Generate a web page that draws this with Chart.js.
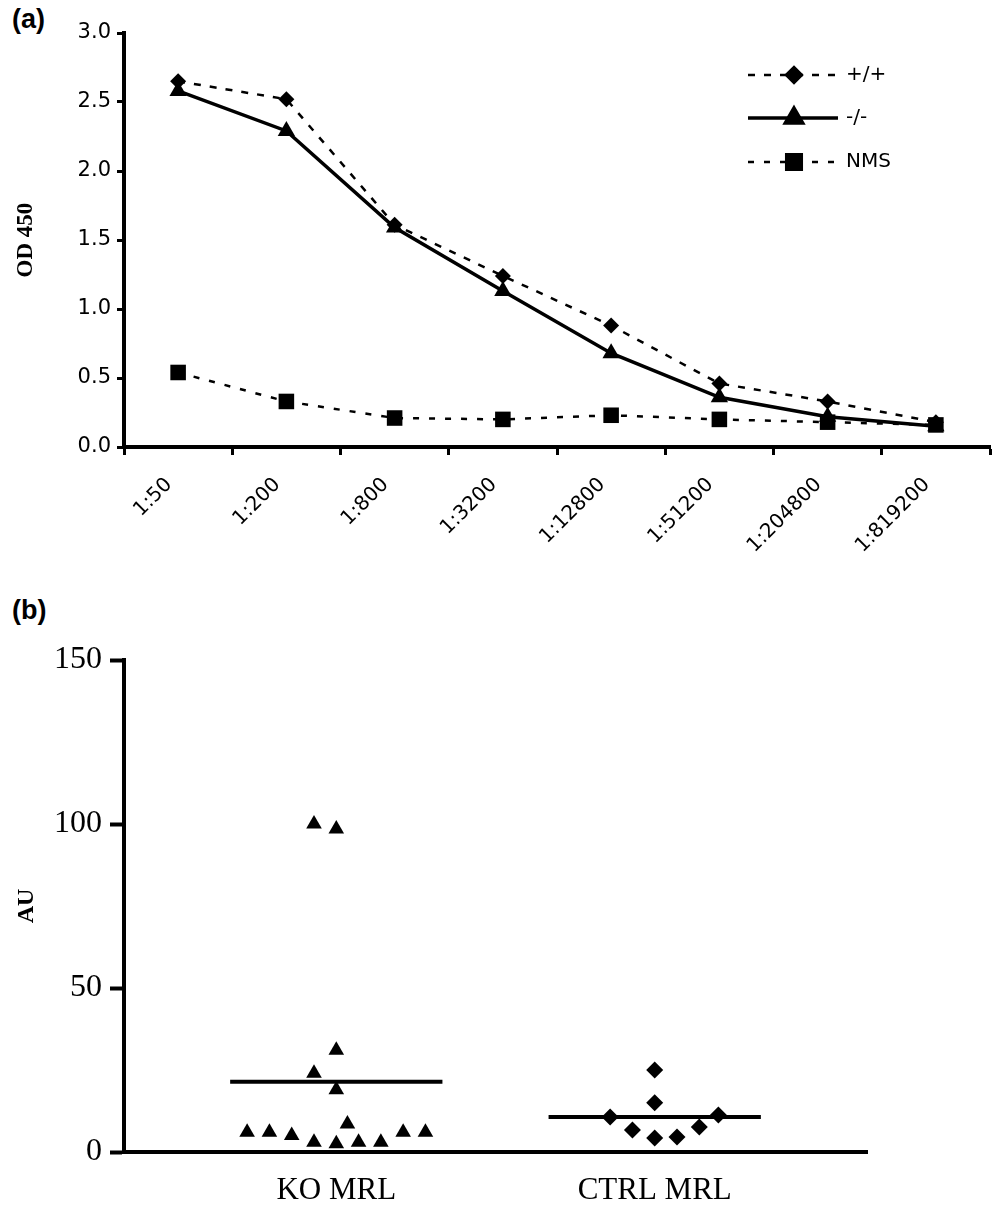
<!DOCTYPE html>
<html>
<head>
<meta charset="utf-8">
<script src="https://cdn.jsdelivr.net/npm/chart.js@4.4.1/dist/chart.umd.min.js"></script>
<style>
  body { margin: 0; background: #fff; width: 1004px; height: 1208px; position: relative; overflow: hidden; }
  .panel-tag { position: absolute; left: 12px; font: bold 27px "Liberation Sans", Arial, sans-serif; color: #000; }
  .wrap { position: absolute; left: 0; width: 1004px; }
</style>
</head>
<body>
<div class="panel-tag" style="top:4px">(a)</div>
<div class="wrap" style="top:0; height:580px"><canvas id="chartA" width="1004" height="580"></canvas></div>
<div class="panel-tag" style="top:595px">(b)</div>
<div class="wrap" style="top:580px; height:628px"><canvas id="chartB" width="1004" height="628"></canvas></div>

<script>
// panel (a) - titration curves
const dilutions = ['1:50', '1:200', '1:800', '1:3200', '1:12800', '1:51200', '1:204800', '1:819200'];
const wtValues  = [2.65, 2.52, 1.61, 1.24, 0.88, 0.46, 0.33, 0.18];
const koValues  = [2.58, 2.29, 1.59, 1.13, 0.68, 0.36, 0.22, 0.15];
const nmsValues = [0.54, 0.33, 0.21, 0.20, 0.23, 0.20, 0.18, 0.16];
const odTicks = [0, 0.5, 1.0, 1.5, 2.0, 2.5, 3.0];

// panel (b) - individual mice
const groups = ['KO MRL', 'CTRL MRL'];
const koMrl     = [100, 98.5, 31, 24, 19, 6, 6, 5, 3, 2.5, 8.5, 3, 3, 6, 6];
const koSpread  = [-0.07, 0, 0, -0.07, 0, -0.28, -0.21, -0.14, -0.07, 0, 0.035, 0.07, 0.14, 0.21, 0.28];
const ctrlMrl    = [25, 15, 10.7, 11.3, 6.7, 4.3, 4.6, 7.6];
const ctrlSpread = [0, 0, -0.14, 0.2, -0.07, 0, 0.07, 0.14];
const auTicks = [0, 50, 100, 150];

const sans = '"DejaVu Sans", Verdana, sans-serif';
const serif = '"Liberation Serif", "Times New Roman", serif';

// legend drawn as line + marker + label, like the original figure
const lineLegend = {
  id: 'lineLegend',
  afterDraw(chart) {
    const ctx = chart.ctx;
    const rows = [75, 118, 162];
    chart.data.datasets.forEach((ds, i) => {
      const y = rows[ds.legendRow];
      ctx.save();
      ctx.strokeStyle = ds.borderColor;
      ctx.lineWidth = ds.borderWidth;
      ctx.setLineDash(ds.borderDash || []);
      ctx.beginPath();
      ctx.moveTo(748, y);
      ctx.lineTo(838, y);
      ctx.stroke();
      ctx.setLineDash([]);
      Chart.helpers.drawPoint(ctx, {
        pointStyle: ds.pointStyle,
        radius: ds.pointRadius,
        borderWidth: 1
      }, 794, y);
      ctx.fillStyle = '#000';
      ctx.fill();
      ctx.font = '20px ' + sans;
      ctx.textBaseline = 'middle';
      ctx.fillText(ds.label, 846, y);
      ctx.restore();
    });
  }
};

new Chart(document.getElementById('chartA'), {
  type: 'line',
  data: {
    labels: dilutions,
    datasets: [
      {
        label: 'NMS', legendRow: 2, data: nmsValues,
        borderColor: '#000', backgroundColor: '#000', borderWidth: 2.5, borderDash: [6, 10],
        pointStyle: 'rect', pointRadius: 11, pointBorderWidth: 0, tension: 0
      },
      {
        label: '+/+', legendRow: 0, data: wtValues,
        borderColor: '#000', backgroundColor: '#000', borderWidth: 2.5, borderDash: [7, 9],
        pointStyle: 'rectRot', pointRadius: 8, pointBorderWidth: 0, tension: 0
      },
      {
        label: '-/-', legendRow: 1, data: koValues,
        borderColor: '#000', backgroundColor: '#000', borderWidth: 3.5,
        pointStyle: 'triangle', pointRadius: 10, pointBorderWidth: 0, tension: 0
      }
    ]
  },
  options: {
    responsive: false,
    animation: false,
    layout: { padding: { top: 33, right: 14, left: 0, bottom: 0 } },
    plugins: { legend: { display: false }, tooltip: { enabled: false } },
    scales: {
      x: {
        offset: true,
        grid: { offset: true, drawOnChartArea: false, color: '#000', tickLength: 8, tickWidth: 3 },
        border: { color: '#000', width: 4 },
        ticks: { color: '#000', font: { family: sans, size: 20 }, minRotation: 45, maxRotation: 45, padding: 18, labelOffset: -9, autoSkip: false },
        afterFit(scale) { scale.height = 133; }
      },
      y: {
        min: 0, max: 3,
        afterBuildTicks(scale) { scale.ticks = odTicks.map(v => ({ value: v })); },
        grid: { drawOnChartArea: false, color: '#000', tickLength: 7, tickWidth: 3 },
        border: { color: '#000', width: 4 },
        ticks: { color: '#000', font: { family: sans, size: 21 }, padding: 6, callback: v => v.toFixed(1) },
        title: { display: true, text: 'OD 450', color: '#000', font: { family: serif, size: 23, weight: 'bold' }, padding: { top: 12, bottom: 0 } },
        afterFit(scale) { scale.width = 124; }
      }
    }
  },
  plugins: [lineLegend]
});

function mean(arr) {
  return arr.reduce((a, b) => a + b, 0) / arr.length;
}

const koPoints = koMrl.map((v, i) => ({ x: 1 + koSpread[i], y: v }));
const ctrlPoints = ctrlMrl.map((v, i) => ({ x: 2 + ctrlSpread[i], y: v }));
const koMean = mean(koMrl);
const ctrlMean = mean(ctrlMrl);

new Chart(document.getElementById('chartB'), {
  type: 'scatter',
  data: {
    datasets: [
      {
        label: 'KO mean', data: [{ x: 1 - 1 / 3, y: koMean }, { x: 1 + 1 / 3, y: koMean }],
        showLine: true, borderColor: '#000', borderWidth: 4, pointRadius: 0
      },
      {
        label: 'CTRL mean', data: [{ x: 2 - 1 / 3, y: ctrlMean }, { x: 2 + 1 / 3, y: ctrlMean }],
        showLine: true, borderColor: '#000', borderWidth: 4, pointRadius: 0
      },
      {
        label: groups[0], data: koPoints,
        pointStyle: 'triangle', pointRadius: 9, backgroundColor: '#000', borderColor: '#000', pointBorderWidth: 0
      },
      {
        label: groups[1], data: ctrlPoints,
        pointStyle: 'rectRot', pointRadius: 8.5, backgroundColor: '#000', borderColor: '#000', pointBorderWidth: 0
      }
    ]
  },
  options: {
    responsive: false,
    animation: false,
    layout: { padding: { top: 80, right: 137, left: 0, bottom: 0 } },
    plugins: { legend: { display: false }, tooltip: { enabled: false } },
    scales: {
      x: {
        type: 'linear', min: 1 / 3, max: 8 / 3,
        afterBuildTicks(scale) { scale.ticks = groups.map((g, i) => ({ value: i + 1 })); },
        grid: { drawOnChartArea: false, drawTicks: false },
        border: { color: '#000', width: 4 },
        ticks: { color: '#000', font: { family: serif, size: 31 }, padding: 20, maxRotation: 0, callback: v => groups[v - 1] },
        afterFit(scale) { scale.height = 56; }
      },
      y: {
        min: 0, max: 150,
        afterBuildTicks(scale) { scale.ticks = auTicks.map(v => ({ value: v })); },
        grid: { drawOnChartArea: false, color: '#000', tickLength: 14, tickWidth: 4 },
        border: { color: '#000', width: 4 },
        ticks: { color: '#000', font: { family: serif, size: 32 }, padding: 8 },
        title: { display: true, text: 'AU', color: '#000', font: { family: serif, size: 24, weight: 'bold' }, padding: { top: 12, bottom: 0 } },
        afterFit(scale) { scale.width = 124; }
      }
    }
  }
});
</script>
</body>
</html>
